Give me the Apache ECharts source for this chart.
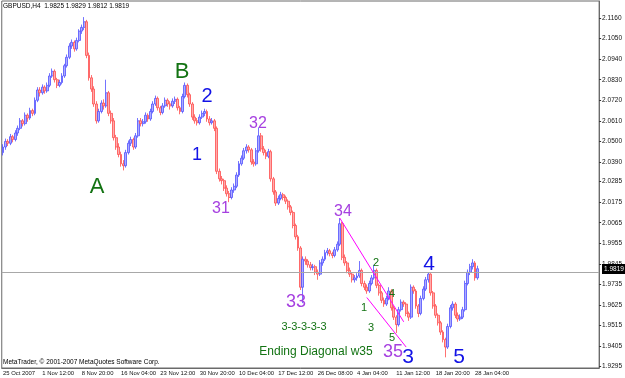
<!DOCTYPE html>
<html><head><meta charset="utf-8">
<script src="https://cdn.jsdelivr.net/npm/echarts@6/dist/echarts.min.js"></script>
<style>html,body{margin:0;padding:0;background:#fff}#c{width:625px;height:378px}</style>
</head><body><div id="c"></div>
<script>
const symbolTitle = 'GBPUSD,H4  1.9825 1.9829 1.9812 1.9819';
const copyright = 'MetaTrader, \u00a9 2001-2007 MetaQuotes Software Corp.';
const xLabels = ['25 Oct 2007','1 Nov 12:00','8 Nov 20:00','16 Nov 04:00','23 Nov 12:00','30 Nov 20:00','10 Dec 04:00','17 Dec 12:00','26 Dec 08:00','4 Jan 04:00','11 Jan 12:00','18 Jan 20:00','28 Jan 04:00'];
const yTicks = [2.1160,2.1050,2.0940,2.0830,2.0720,2.0610,2.0500,2.0390,2.0285,2.0175,2.0065,1.9955,1.9845,1.9735,1.9625,1.9515,1.9405,1.9295];
const lastPrice = 1.9819;

const opens = [
2.0440,2.0470,2.0500,2.0490,2.0525,2.0510,2.0545,2.0570,2.0610,2.0595,
2.0640,2.0625,2.0665,2.0650,2.0720,2.0775,2.0760,2.0790,2.0770,2.0800,
2.0850,2.0875,2.0830,2.0800,2.0815,2.0850,2.0905,2.0950,2.1010,2.1030,
2.0995,2.1040,2.1090,2.1110,2.1140,2.0960,2.0840,2.0780,2.0700,2.0610,
2.0660,2.0705,2.0690,2.0760,2.0650,2.0610,2.0520,2.0470,2.0430,2.0380,
2.0370,2.0440,2.0490,2.0510,2.0470,2.0530,2.0610,2.0595,2.0605,2.0640,
2.0620,2.0660,2.0700,2.0730,2.0680,2.0655,2.0690,2.0720,2.0700,2.0690,
2.0715,2.0725,2.0680,2.0660,2.0740,2.0800,2.0750,2.0700,2.0630,2.0610,
2.0600,2.0630,2.0650,2.0660,2.0620,2.0600,2.0610,2.0570,2.0340,2.0300,
2.0290,2.0250,2.0220,2.0200,2.0240,2.0260,2.0320,2.0380,2.0410,2.0450,
2.0470,2.0455,2.0390,2.0380,2.0450,2.0530,2.0460,2.0440,2.0420,2.0445,
2.0300,2.0230,2.0170,2.0195,2.0215,2.0200,2.0180,2.0150,2.0120,2.0050,
1.9990,1.9930,1.9720,1.9870,1.9860,1.9840,1.9825,1.9830,1.9800,1.9790,
1.9850,1.9870,1.9905,1.9915,1.9900,1.9890,1.9920,1.9950,2.0060,1.9880,
1.9850,1.9810,1.9790,1.9760,1.9770,1.9780,1.9810,1.9740,1.9720,1.9700,
1.9740,1.9770,1.9810,1.9730,1.9690,1.9650,1.9630,1.9660,1.9700,1.9610,
1.9560,1.9520,1.9600,1.9640,1.9630,1.9580,1.9560,1.9720,1.9700,1.9620,
1.9580,1.9660,1.9710,1.9760,1.9790,1.9690,1.9620,1.9570,1.9530,1.9480,
1.9440,1.9400,1.9510,1.9610,1.9630,1.9570,1.9550,1.9560,1.9600,1.9740,
1.9800,1.9830,1.9850,1.9770];
const closes = [
2.0470,2.0500,2.0490,2.0525,2.0510,2.0545,2.0570,2.0610,2.0595,2.0640,
2.0625,2.0665,2.0650,2.0720,2.0775,2.0760,2.0790,2.0770,2.0800,2.0850,
2.0875,2.0830,2.0800,2.0815,2.0850,2.0905,2.0950,2.1010,2.1030,2.0995,
2.1040,2.1090,2.1110,2.1140,2.0960,2.0840,2.0780,2.0700,2.0610,2.0660,
2.0705,2.0690,2.0760,2.0650,2.0610,2.0520,2.0470,2.0430,2.0380,2.0370,
2.0440,2.0490,2.0510,2.0470,2.0530,2.0610,2.0595,2.0605,2.0640,2.0620,
2.0660,2.0700,2.0730,2.0680,2.0655,2.0690,2.0720,2.0700,2.0690,2.0715,
2.0725,2.0680,2.0660,2.0740,2.0800,2.0750,2.0700,2.0630,2.0610,2.0600,
2.0630,2.0650,2.0660,2.0620,2.0600,2.0610,2.0570,2.0340,2.0300,2.0290,
2.0250,2.0220,2.0200,2.0240,2.0260,2.0320,2.0380,2.0410,2.0450,2.0470,
2.0455,2.0390,2.0380,2.0450,2.0530,2.0460,2.0440,2.0420,2.0445,2.0300,
2.0230,2.0170,2.0195,2.0215,2.0200,2.0180,2.0150,2.0120,2.0050,1.9990,
1.9930,1.9720,1.9870,1.9860,1.9840,1.9825,1.9830,1.9800,1.9790,1.9850,
1.9870,1.9905,1.9915,1.9900,1.9890,1.9920,1.9950,2.0060,1.9880,1.9850,
1.9810,1.9790,1.9760,1.9770,1.9780,1.9810,1.9740,1.9720,1.9700,1.9740,
1.9770,1.9810,1.9730,1.9690,1.9650,1.9630,1.9660,1.9700,1.9610,1.9560,
1.9520,1.9600,1.9640,1.9630,1.9580,1.9560,1.9720,1.9700,1.9620,1.9580,
1.9660,1.9710,1.9760,1.9790,1.9690,1.9620,1.9570,1.9530,1.9480,1.9440,
1.9400,1.9510,1.9610,1.9630,1.9570,1.9550,1.9560,1.9600,1.9740,1.9800,
1.9830,1.9850,1.9770,1.9819];
const lows = [
2.0425,2.0455,2.0475,2.0480,2.0495,2.0500,2.0530,2.0560,2.0580,2.0585,
2.0605,2.0615,2.0635,2.0640,2.0710,2.0740,2.0750,2.0755,2.0760,2.0790,
2.0840,2.0815,2.0785,2.0790,2.0805,2.0840,2.0895,2.0940,2.0995,2.0980,
2.0985,2.1030,2.1075,2.1095,2.0945,2.0825,2.0765,2.0685,2.0595,2.0600,
2.0650,2.0670,2.0680,2.0635,2.0595,2.0505,2.0455,2.0415,2.0365,2.0345,
2.0360,2.0430,2.0475,2.0455,2.0460,2.0520,2.0580,2.0580,2.0595,2.0605,
2.0610,2.0650,2.0690,2.0665,2.0640,2.0645,2.0680,2.0685,2.0670,2.0680,
2.0700,2.0665,2.0645,2.0650,2.0730,2.0735,2.0685,2.0615,2.0595,2.0585,
2.0590,2.0620,2.0635,2.0605,2.0585,2.0590,2.0555,2.0325,2.0285,2.0270,
2.0235,2.0205,2.0175,2.0190,2.0225,2.0250,2.0310,2.0370,2.0400,2.0435,
2.0440,2.0375,2.0365,2.0370,2.0440,2.0445,2.0425,2.0405,2.0410,2.0285,
2.0215,2.0155,2.0160,2.0185,2.0185,2.0165,2.0135,2.0105,2.0035,1.9975,
1.9915,1.9705,1.9635,1.9840,1.9825,1.9810,1.9810,1.9785,1.9760,1.9780,
1.9835,1.9860,1.9890,1.9885,1.9875,1.9880,1.9910,1.9940,1.9865,1.9835,
1.9795,1.9775,1.9745,1.9745,1.9755,1.9770,1.9725,1.9705,1.9685,1.9690,
1.9730,1.9760,1.9715,1.9675,1.9635,1.9615,1.9620,1.9650,1.9595,1.9545,
1.9475,1.9510,1.9590,1.9615,1.9565,1.9540,1.9550,1.9685,1.9605,1.9560,
1.9570,1.9650,1.9700,1.9745,1.9675,1.9605,1.9555,1.9515,1.9465,1.9425,
1.9345,1.9390,1.9500,1.9595,1.9555,1.9535,1.9540,1.9550,1.9590,1.9730,
1.9785,1.9815,1.9755,1.9760];
const highs = [
2.0485,2.0515,2.0512,2.0540,2.0535,2.0560,2.0585,2.0625,2.0620,2.0655,
2.0650,2.0680,2.0675,2.0735,2.0790,2.0790,2.0805,2.0800,2.0815,2.0865,
2.0890,2.0885,2.0840,2.0830,2.0865,2.0915,2.0965,2.1025,2.1045,2.1040,
2.1055,2.1100,2.1125,2.1165,2.1150,2.0975,2.0855,2.0795,2.0715,2.0675,
2.0720,2.0725,2.0830,2.0770,2.0665,2.0625,2.0535,2.0490,2.0445,2.0400,
2.0455,2.0505,2.0525,2.0520,2.0545,2.0625,2.0625,2.0620,2.0655,2.0650,
2.0675,2.0715,2.0745,2.0740,2.0690,2.0705,2.0735,2.0730,2.0715,2.0730,
2.0740,2.0735,2.0690,2.0755,2.0815,2.0810,2.0760,2.0710,2.0645,2.0625,
2.0645,2.0665,2.0675,2.0670,2.0635,2.0625,2.0620,2.0580,2.0355,2.0315,
2.0300,2.0265,2.0235,2.0255,2.0275,2.0335,2.0395,2.0425,2.0465,2.0485,
2.0480,2.0465,2.0405,2.0465,2.0575,2.0545,2.0475,2.0455,2.0460,2.0455,
2.0310,2.0240,2.0210,2.0230,2.0225,2.0210,2.0190,2.0160,2.0130,2.0060,
2.0000,1.9940,1.9885,1.9885,1.9870,1.9855,1.9845,1.9840,1.9815,1.9865,
1.9885,1.9920,1.9930,1.9925,1.9910,1.9935,1.9965,2.0090,2.0070,1.9895,
1.9860,1.9825,1.9800,1.9785,1.9795,1.9860,1.9820,1.9755,1.9735,1.9755,
1.9785,1.9840,1.9820,1.9740,1.9700,1.9665,1.9675,1.9720,1.9710,1.9620,
1.9570,1.9615,1.9655,1.9650,1.9640,1.9590,1.9735,1.9730,1.9710,1.9630,
1.9675,1.9725,1.9775,1.9800,1.9795,1.9700,1.9630,1.9580,1.9540,1.9490,
1.9450,1.9525,1.9625,1.9645,1.9640,1.9585,1.9575,1.9615,1.9755,1.9815,
1.9845,1.9870,1.9860,1.9835];

// Ending-diagonal trendlines: [bar index, price]
const upperLine = [[137, 2.0090], [163, 1.9535]];
const lowerLine = [[148, 1.9665], [164, 1.9400]];

// Wave annotations: [text, x, y, color, size]
const GREEN = '#137313', BLUE = '#1212e6', PURPLE = '#a640e0';
const notes = [
  ['A', 97, 187, GREEN, 22], ['B', 182, 72, GREEN, 22],
  ['2', 207, 96, BLUE, 20], ['1', 197, 155, BLUE, 18],
  ['32', 258, 124, PURPLE, 16], ['31', 221, 209, PURPLE, 16],
  ['34', 343, 212, PURPLE, 16], ['33', 296, 302, PURPLE, 18],
  ['35', 393, 352, PURPLE, 18],
  ['3', 408, 357, BLUE, 21], ['4', 429, 264, BLUE, 21], ['5', 459, 357, BLUE, 21],
  ['2', 376, 263, GREEN, 11], ['1', 364, 308, GREEN, 11], ['4', 392, 294, GREEN, 11],
  ['3', 371, 328, GREEN, 11], ['5', 392, 338, GREEN, 11],
  ['3-3-3-3-3', 304, 327, GREEN, 11],
  ['Ending Diagonal w35', 316, 352, GREEN, 12]
];

const nCats = 243;
const cats = Array.from({length: nCats}, (_, i) => String(i));
const candles = closes.map((c, i) => [opens[i], c, lows[i], highs[i]]);
const FONT = 'Liberation Sans';

const chart = echarts.init(document.getElementById('c'), null, {renderer: 'canvas'});
const option = {
  animation: false,
  backgroundColor: '#ffffff',
  grid: {left: 1, right: 24, top: 1, bottom: 10, show: true, borderColor: '#6a6a6a', borderWidth: 1, backgroundColor: 'transparent'},
  xAxis: {
    type: 'category', data: cats, boundaryGap: true,
    axisLine: {lineStyle: {color: '#6a6a6a'}},
    axisTick: {length: 4, lineStyle: {color: '#333'}, interval: (i) => i % 16 === 0 && i / 16 < xLabels.length},
    axisLabel: {
      interval: (i) => i % 16 === 0 && i / 16 < xLabels.length,
      formatter: (v, i) => xLabels[Math.round(i / 16)] || '',
      align: 'left', margin: 2, fontSize: 5.9, color: '#111', fontFamily: FONT
    },
    splitLine: {show: false}
  },
  yAxis: {
    type: 'value', position: 'right', min: 1.9288, max: 2.1251, scale: true,
    axisLine: {show: true, lineStyle: {color: '#6a6a6a'}},
    axisTick: {show: true, length: 2, lineStyle: {color: '#333'}, customValues: yTicks},
    axisLabel: {customValues: yTicks, formatter: (v) => v.toFixed(4), fontSize: 6.5, color: '#111', margin: 3, fontFamily: FONT},
    splitLine: {show: false}
  },
  series: [
    {
      type: 'candlestick', data: candles, barWidth: 2.4,
      itemStyle: {color: '#acacff', color0: '#ffacac', borderColor: '#5050ff', borderColor0: '#ff4c4c', borderWidth: 0.8},
      markLine: {symbol: 'none', silent: true, label: {show: false}, data: [{yAxis: lastPrice}],
        lineStyle: {color: '#a8a8a8', width: 1, type: 'solid'}}
    },
    {type: 'line', data: upperLine, symbol: 'none', lineStyle: {color: '#ff00ff', width: 1}, z: 5},
    {type: 'line', data: lowerLine, symbol: 'none', lineStyle: {color: '#ff00ff', width: 1}, z: 5}
  ]
};
chart.setOption(option);

const py = chart.convertToPixel({yAxisIndex: 0}, lastPrice);
const graphics = notes.map(n => ({
  type: 'text', z: 10,
  style: {text: n[0], x: n[1], y: n[2], fill: n[3], font: n[4] + 'px "' + FONT + '"',
    textAlign: 'center', textVerticalAlign: 'middle', align: 'center', verticalAlign: 'middle'}
}));
graphics.push({type: 'text', z: 10, style: {text: symbolTitle, x: 3, y: 6, fill: '#000', font: '6.5px "' + FONT + '"', textVerticalAlign: 'middle', verticalAlign: 'middle'}});
graphics.push({type: 'text', z: 10, style: {text: copyright, x: 3, y: 362, fill: '#000', font: '6.5px "' + FONT + '"', textVerticalAlign: 'middle', verticalAlign: 'middle'}});
graphics.push({type: 'rect', z: 11, shape: {x: 602, y: Math.round(py) - 5, width: 23, height: 10}, style: {fill: '#000'}});
graphics.push({type: 'text', z: 12, style: {text: lastPrice.toFixed(4), x: 604, y: Math.round(py), fill: '#fff', font: '6.5px "' + FONT + '"', textVerticalAlign: 'middle', verticalAlign: 'middle'}});
chart.setOption({graphic: graphics});
</script></body></html>
